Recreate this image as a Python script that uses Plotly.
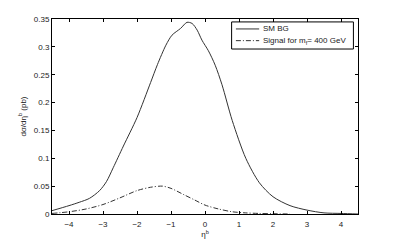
import plotly.graph_objects as go

sm_x = [-4.5, -4.0, -3.7, -3.4, -3.1, -2.9, -2.7, -2.4, -2.0, -1.6, -1.4, -1.15, -0.97, -0.72, -0.53, -0.38, -0.23, -0.09, 0.1, 0.3, 0.5, 0.8, 1.2, 1.6, 2.0, 2.5, 3.0, 3.5, 4.0, 4.5]
sm_y = [0.006, 0.015, 0.021, 0.028, 0.042, 0.058, 0.083, 0.122, 0.173, 0.236, 0.268, 0.303, 0.321, 0.333, 0.344, 0.342, 0.330, 0.312, 0.293, 0.267, 0.232, 0.168, 0.100, 0.056, 0.031, 0.015, 0.007, 0.002, 0.001, 0.000]

sig_x = [-4.5, -4.0, -3.5, -3.0, -2.5, -2.0, -1.6, -1.25, -1.0, -0.6, -0.3, 0.0, 0.4, 0.8, 1.2, 1.6, 2.0, 2.5]
sig_y = [0.001, 0.004, 0.009, 0.017, 0.029, 0.042, 0.048, 0.050, 0.046, 0.034, 0.025, 0.016, 0.009, 0.004, 0.002, 0.001, 0.0005, 0.0]

x_ticks = [-4, -3, -2, -1, 0, 1, 2, 3, 4]
y_ticks = [0, 0.05, 0.1, 0.15, 0.2, 0.25, 0.3, 0.35]
y_labels = ["0", "0.05", "0.1", "0.15", "0.2", "0.25", "0.3", "0.35"]
series_names = ["SM BG", "Signal for m<sub>f</sub>= 400 GeV"]

LINE = "#333333"
DASHDOT = "5px,2px,1px,2px"

fig = go.Figure()
fig.add_trace(go.Scatter(x=sm_x, y=sm_y, mode="lines", name=series_names[0],
                         line=dict(color=LINE, width=1, shape="spline", smoothing=0.8)))
fig.add_trace(go.Scatter(x=sig_x, y=sig_y, mode="lines", name=series_names[1],
                         line=dict(color=LINE, width=1, dash=DASHDOT, shape="spline", smoothing=0.8)))

font = dict(family="Liberation Sans, Arial, sans-serif", size=8, color="#222222")

# manual MATLAB-style legend box
shapes = [
    dict(type="rect", xref="paper", yref="paper", x0=0.587, x1=0.985, y0=0.846, y1=0.985,
         line=dict(color="black", width=1), fillcolor="white", layer="above"),
    dict(type="line", xref="paper", yref="paper", x0=0.601, x1=0.677, y0=0.949, y1=0.949,
         line=dict(color=LINE, width=1), layer="above"),
    dict(type="line", xref="paper", yref="paper", x0=0.601, x1=0.677, y0=0.889, y1=0.889,
         line=dict(color=LINE, width=1, dash=DASHDOT), layer="above"),
]
annotations = [
    dict(xref="paper", yref="paper", x=0.683, y=0.949, text=series_names[0], showarrow=False,
         xanchor="left", yanchor="middle", font=font),
    dict(xref="paper", yref="paper", x=0.683, y=0.889, text=series_names[1], showarrow=False,
         xanchor="left", yanchor="middle", font=font),
]

fig.update_layout(
    width=395, height=241,
    margin=dict(l=52, r=37, t=19, b=27),
    paper_bgcolor="white", plot_bgcolor="white",
    font=font,
    showlegend=False,
    hovermode=False,
    shapes=shapes,
    annotations=annotations,
    xaxis=dict(range=[-4.5, 4.5], tickvals=x_ticks, ticktext=[str(v).replace("-", "−") for v in x_ticks],
               tickfont=font,
               ticks="inside", ticklen=3, tickcolor="black", showline=True, linecolor="black",
               linewidth=1, mirror="ticks", showgrid=False, zeroline=False, ticklabelstandoff=2,
               automargin=False, fixedrange=True,
               title=dict(text="η<sup>b</sup>", standoff=1, font=font)),
    yaxis=dict(range=[0, 0.35], tickvals=y_ticks, ticktext=y_labels, tickfont=font,
               ticks="inside", ticklen=3, tickcolor="black", showline=True, linecolor="black",
               linewidth=1, mirror="ticks", showgrid=False, zeroline=False, automargin=False,
               fixedrange=True,
               title=dict(text="dσ/dη<sup>b</sup> (pb)", standoff=6, font=font)),
)
fig.write_html("out.html", config={"displayModeBar": False, "staticPlot": True},
               post_script="document.body.style.margin='0';document.body.style.overflow='hidden';")
